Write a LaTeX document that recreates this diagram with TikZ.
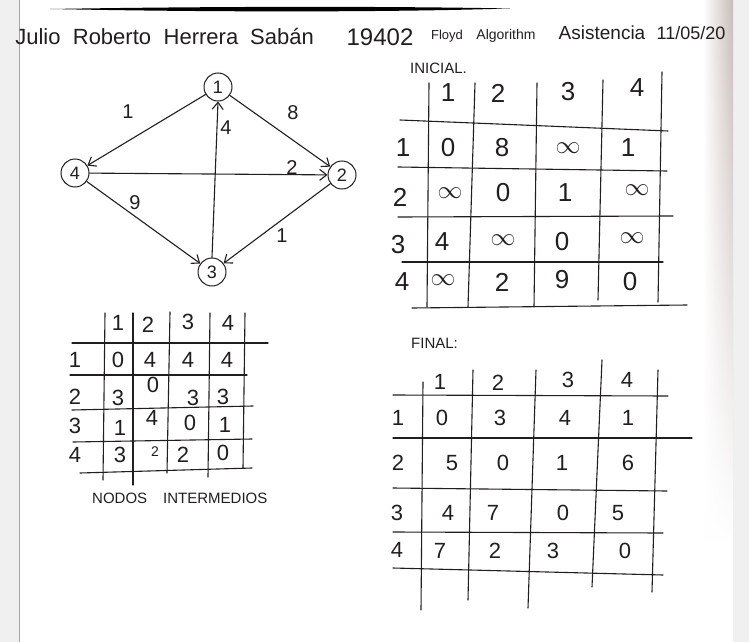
\documentclass[tikz,border=0pt]{standalone}
\usepackage{fontspec}
\setmainfont{Liberation Sans}
\usetikzlibrary{arrows.meta,fadings}
\definecolor{inkc}{RGB}{35,30,30}
\definecolor{shadowc}{RGB}{200,188,184}
\tikzfading[name=fadebottom, top color=transparent!0, middle color=transparent!10, bottom color=transparent!100]
\begin{document}
\begin{tikzpicture}[x=1pt,y=-1pt,
  ink/.style={draw=inkc, line width=1.1pt, line cap=round},
  vnode/.style={circle, draw=inkc, line width=1pt, minimum size=28pt, inner sep=0pt, text=inkc, font=\fontsize{18}{18}\selectfont},
  edge/.style={ink, -{Straight Barb[length=7pt,width=11pt]}},
  hw/.style={inner sep=0pt, text=inkc},
  wlabel/.style={hw, font=\fontsize{20}{20}\selectfont},
  bigd/.style={hw, font=\fontsize{26}{26}\selectfont},
  midd/.style={hw, font=\fontsize{22}{22}\selectfont},
  smalld/.style={hw, font=\fontsize{14}{14}\selectfont},
  head/.style={hw, font=\fontsize{22}{22}\selectfont, anchor=base},
]
\useasboundingbox (0,0) rectangle (749,642);
% paper
\fill[black!6] (0,0) rectangle (749,642);
\fill[white] (19,0) rectangle (733,642);
\shade[left color=white, right color=shadowc, path fading=fadebottom] (703,0) rectangle (733,540);
\draw[black!35, line width=0.8pt] (19,0) -- (19,642);
\fill[black] (50,9) .. controls (200,6.5) and (380,6) .. (510,8.5) .. controls (380,12.5) and (200,12) .. (50,9) -- cycle;

% header
\node[head] (h1) at (38,45) {Julio};
\node[head] (h2) at (112,45) {Roberto};
\node[head] (h3) at (201,45) {Herrera};
\node[head] (h4) at (282,45) {Sabán};
\node[head, font=\fontsize{24}{24}\selectfont] (h5) at (380,46) {19402};
\node[head, font=\fontsize{13}{13}\selectfont] (h6) at (447,40) {Floyd};
\node[head, font=\fontsize{14}{14}\selectfont] (h7) at (506,40) {Algorithm};
\node[head, font=\fontsize{19}{19}\selectfont] (h8) at (602,40) {Asistencia};
\node[head, font=\fontsize{18}{18}\selectfont] (h9) at (691,40) {11/05/20};

% graph
\node[vnode] (n1) at (218,87) {1};
\node[vnode] (n2) at (342,175) {2};
\node[vnode] (n3) at (212,272) {3};
\node[vnode] (n4) at (75,173) {4};
\draw[edge] (n1) -- (n4);
\draw[edge] (n1) -- (n2);
\draw[edge] (n3.north) -- (n1.south);
\draw[edge] (n4) -- (n2);
\draw[edge] (n4) -- (n3);
\draw[edge] (n2) -- (n3);
\node[wlabel] (l14) at (128,112) {1};
\node[wlabel] (l12) at (293,113) {8};
\node[wlabel] (l31) at (226,128) {4};
\node[wlabel] (l42) at (292,168) {2};
\node[wlabel] (l43) at (135,203) {9};
\node[wlabel] (l23) at (282,236) {1};

% ---------- INICIAL table ----------
\node[hw, font=\fontsize{15}{15}\selectfont, anchor=west] (ti) at (410,68) {INICIAL.};
\draw[ink] (429,83) -- (427,307);
\draw[ink] (475,83) -- (468,307);
\draw[ink] (537,83) -- (534,307);
\draw[ink] (603,80) -- (598,300);
\draw[ink] (662,72) -- (658,302);
\draw[ink] (400,120) -- (668,131);
\draw[ink] (398,167) -- (667,171);
\draw[ink] (398,217) -- (673,216);
\draw[ink] (402,262) -- (663,262);
\draw[ink] (412,308) -- (687,305);
\foreach \x/\y/\t [count=\k] in {448/93/1,498/93/2,568/92/3,637/88/4,
  403/148/1,400/197/2,398/245/3,402/282/4,
  448/148/0,502/148/8,628/148/1,
  503/193/0,565/193/1,
  442/242/4,562/242/0,
  502/282/2,562/280/9,630/282/0}
  \node[bigd] (i\k) at (\x,\y) {\t};
\foreach \x/\y [count=\k] in {568/148,450/193,637/190,503/240,632/238,443/280}
  \node[bigd] (iinf\k) at (\x,\y) {$\infty$};

% ---------- NODOS INTERMEDIOS table ----------
\draw[ink] (105,313) -- (103,480);
\draw[ink] (133,313) -- (133,485);
\draw[ink] (170,312) -- (167,473);
\draw[ink] (210,313) -- (208,477);
\draw[ink] (245,313) -- (243,468);
\draw[ink] (72,343) -- (268,343);
\draw[ink] (70,375) -- (247,375);
\draw[ink] (72,410) -- (253,406);
\draw[ink] (73,442) -- (252,439);
\draw[ink] (80,473) -- (252,468);
\foreach \x/\y/\t [count=\k] in {118/323/1,148/325/2,188/322/3,228/323/4,
  75/360/1,75/397/2,75/426/3,75/455/4,
  118/360/0,150/360/4,188/360/4,227/360/4,
  118/398/3,153/385/0,193/398/3,223/397/3,
  120/428/1,152/418/4,190/423/0,225/425/1,
  120/455/3,183/455/2,223/453/0}
  \node[midd] (m\k) at (\x,\y) {\t};
\node[smalld] (m24) at (155,452) {2};
\node[hw, font=\fontsize{15}{15}\selectfont, anchor=west] (tn) at (92,498) {NODOS\hspace{16pt}INTERMEDIOS};

% ---------- FINAL table ----------
\node[hw, font=\fontsize{15}{15}\selectfont, anchor=west] (tf) at (411,343) {FINAL:};
\draw[ink] (423,382) -- (421,610);
\draw[ink] (473,370) -- (468,600);
\draw[ink] (536,370) -- (528,608);
\draw[ink] (602,360) -- (592,587);
\draw[ink] (658,370) -- (652,592);
\draw[ink] (393,395) -- (668,396);
\draw[ink] (393,438) -- (692,438);
\draw[ink] (393,488) -- (667,491);
\draw[ink] (393,532) -- (663,533);
\draw[ink] (393,568) -- (663,575);
\foreach \x/\y/\t [count=\k] in {440/382/1,498/383/2,568/380/3,627/380/4,
  398/418/1,398/463/2,397/513/3,397/550/4,
  442/418/0,500/418/3,565/418/4,628/418/1,
  452/463/5,503/463/0,562/463/1,628/463/6,
  448/513/4,493/513/7,563/513/0,618/513/5,
  440/551/7,495/551/2,553/551/3,625/551/0}
  \node[midd] (f\k) at (\x,\y) {\t};
\end{tikzpicture}
\end{document}
